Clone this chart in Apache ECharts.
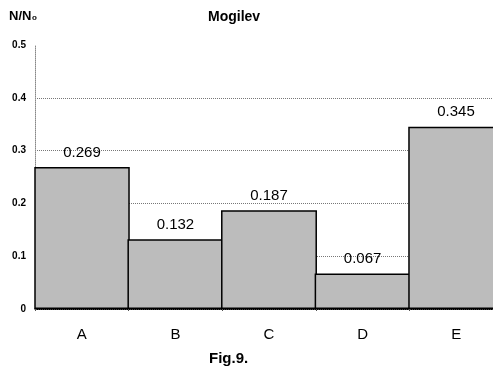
<!DOCTYPE html>
<html><head><meta charset="utf-8">
<script src="https://cdn.jsdelivr.net/npm/echarts@6/dist/echarts.min.js"></script>
<style>html,body{margin:0;padding:0;background:#fff;overflow:hidden;width:493px;height:370px}#c{width:503px;height:370px}</style>
</head><body><div id="c"></div>
<script>
const categories = ['A', 'B', 'C', 'D', 'E'];
const values = [0.269, 0.132, 0.187, 0.067, 0.345];
const yTicks = [0, 0.1, 0.2, 0.3, 0.4, 0.5];

const chart = echarts.init(document.getElementById('c'), null, {renderer: 'canvas'});
chart.setOption({
  animation: false,
  backgroundColor: '#fff',
  title: [
    {text: 'Mogilev', left: 203, top: 5, textStyle: {fontFamily: 'Liberation Sans Narrow, Liberation Sans', fontSize: 14, fontWeight: 'bold', color: '#000'}},
    {text: 'N/N\u2080', left: 4, top: 5, textStyle: {fontFamily: 'Liberation Sans Narrow, Liberation Sans', fontSize: 13, fontWeight: 'bold', color: '#000'}},
    {text: 'Fig.9.', left: 204, top: 346, textStyle: {fontFamily: 'Liberation Sans Narrow, Liberation Sans', fontSize: 15, fontWeight: 'bold', color: '#000'}}
  ],
  grid: {left: 35, right: 0, top: 45, bottom: 61, containLabel: false},
  xAxis: {
    type: 'category', data: categories,
    axisLine: {lineStyle: {color: '#000', width: 1.5}},
    axisTick: {show: true, length: 2, lineStyle: {color: '#555'}},
    axisLabel: {margin: 18, fontFamily: 'Liberation Sans', fontSize: 15, color: '#000'}
  },
  yAxis: {
    type: 'value', min: yTicks[0], max: yTicks[yTicks.length - 1], interval: 0.1,
    axisLine: {show: true, lineStyle: {color: '#888', type: 'dotted', width: 1}},
    axisTick: {show: false},
    axisLabel: {margin: 9, fontFamily: 'Liberation Sans', fontSize: 10, fontWeight: 'bold', color: '#000'},
    splitLine: {show: true, lineStyle: {type: 'dotted', width: 1, color: ['#000', '#777', '#777', '#777', '#777', 'rgba(0,0,0,0)']}}
  },
  series: [{
    type: 'bar', data: values, barWidth: '102.5%',
    itemStyle: {color: '#bcbcbc', borderColor: '#000', borderWidth: 1.5},
    label: {show: true, position: 'top', distance: 7, formatter: p => p.value.toFixed(3),
      fontFamily: 'Liberation Sans', fontSize: 15, color: '#000'}
  }]
});
</script></body></html>
